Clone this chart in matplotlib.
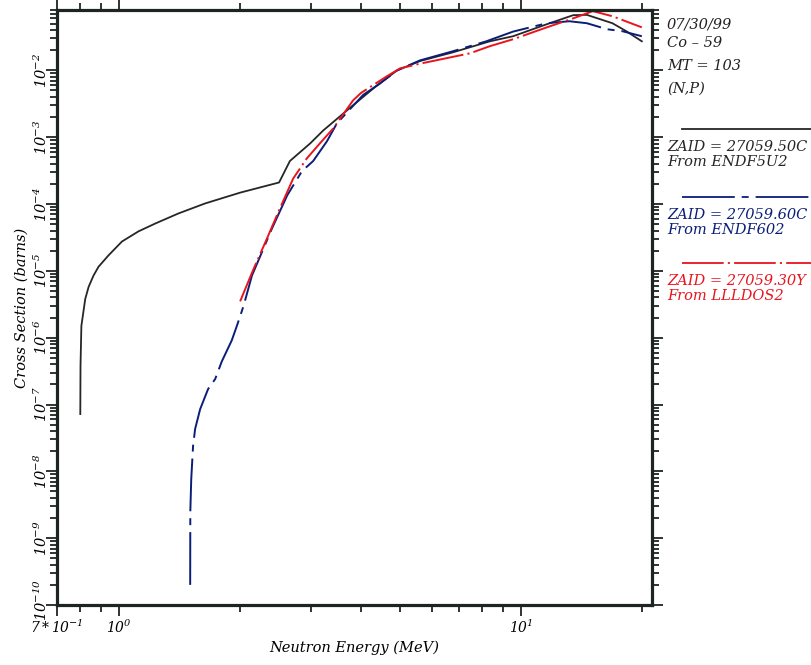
import matplotlib
matplotlib.use("Agg")
import matplotlib.pyplot as plt
from matplotlib.ticker import FixedLocator, NullFormatter
from matplotlib.transforms import ScaledTranslation

plt.rcParams['font.family'] = ['DejaVu Serif']
plt.rcParams['font.style'] = 'italic'
plt.rcParams['mathtext.fontset'] = 'custom'
plt.rcParams['mathtext.rm'] = 'DejaVu Serif:italic'
plt.rcParams['mathtext.it'] = 'DejaVu Serif:italic'
plt.rcParams['lines.scale_dashes'] = False

# Co-59 MT=103 (n,p) cross sections
black_E = [0.800, 0.801, 0.805, 0.823, 0.839, 0.863, 0.888, 0.940, 1.016, 1.117,
           1.229, 1.402, 1.636, 2.0, 2.50, 2.66, 2.99, 3.22, 3.82, 4.39, 4.92,
           5.61, 6.77, 8.37, 9.56, 11.6, 13.5, 14.6, 16.9, 18.3, 20.0]
black_xs = [7.2e-8, 3.8e-7, 1.5e-6, 3.8e-6, 5.75e-6, 8.5e-6, 1.15e-5, 1.7e-5,
            2.75e-5, 3.9e-5, 5.1e-5, 7.2e-5, 1.02e-4, 1.48e-4, 2.1e-4, 4.4e-4,
            8.1e-4, 1.26e-3, 3.0e-3, 6.0e-3, 1.0e-2, 1.38e-2, 1.86e-2, 2.72e-2,
            3.24e-2, 4.9e-2, 6.7e-2, 6.76e-2, 5.07e-2, 3.85e-2, 2.72e-2]

blue_E = [1.502, 1.503, 1.511, 1.527, 1.545, 1.590, 1.664, 1.733, 1.80, 1.906,
          1.97, 2.04, 2.14, 2.27, 2.40, 2.62, 2.85, 3.04, 3.29, 3.48, 4.05, 4.45,
          4.92, 5.61, 6.77, 8.2, 9.56, 11.6, 13.2, 14.6, 16.4, 17.9, 20.0]
blue_xs = [2.0e-10, 2.45e-9, 7.6e-9, 2.4e-8, 4.3e-8, 8.5e-8, 1.7e-7, 2.4e-7,
           4.4e-7, 9.1e-7, 1.6e-6, 3.0e-6, 8.5e-6, 1.95e-5, 4.3e-5, 1.35e-4,
           3.1e-4, 4.4e-4, 8.7e-4, 1.6e-3, 4.3e-3, 6.3e-3, 1.0e-2, 1.41e-2,
           1.93e-2, 2.72e-2, 3.8e-2, 5.07e-2, 5.43e-2, 5.07e-2, 4.12e-2, 3.85e-2,
           3.24e-2]

red_E = [2.0, 2.15, 2.33, 2.51, 2.71, 2.93, 3.16, 3.41, 3.82, 4.0, 4.63, 5.0,
         5.61, 7.47, 8.37, 9.56, 11.6, 13.5, 15.1, 16.9, 20.0]
red_xs = [3.5e-6, 1.0e-5, 3.0e-5, 8.5e-5, 2.4e-4, 4.8e-4, 8.1e-4, 1.35e-3,
          3.55e-3, 4.6e-3, 8.1e-3, 1.07e-2, 1.26e-2, 1.8e-2, 2.3e-2, 2.92e-2,
          4.4e-2, 6.0e-2, 7.7e-2, 6.45e-2, 4.4e-2]

c_black = '#262626'
c_blue = '#0a1e78'
c_red = '#e8141e'
blue_dash = (38, 5, 5, 5)
red_dash = (30, 3, 1.5, 3)

fig = plt.figure(figsize=(8.12, 6.65), dpi=100)
ax = fig.add_axes([57/812, 60/665, 595/812, 595/665])

ax.plot(black_E, black_xs, color=c_black, lw=1.3)
ax.plot(blue_E, blue_xs, color=c_blue, lw=1.4, dashes=blue_dash)
ax.plot(red_E, red_xs, color=c_red, lw=1.4, dashes=red_dash)

ax.set_xscale('log')
ax.set_yscale('log')
ax.set_xlim(0.7, 21.2)
ax.set_ylim(1e-10, 0.08)

for s in ax.spines.values():
    s.set_linewidth(2.3)
    s.set_color('#1e2420')

ax.xaxis.set_major_locator(FixedLocator([0.7, 1, 10]))
ax.set_xticklabels([r'$7*10^{-1}$', r'$10^{0}$', r'$10^{1}$'], fontsize=10)
ax.xaxis.set_minor_locator(FixedLocator([0.8, 0.9, 2, 3, 4, 5, 6, 7, 8, 9, 20]))
ax.xaxis.set_minor_formatter(NullFormatter())

ydec = [1e-10, 1e-9, 1e-8, 1e-7, 1e-6, 1e-5, 1e-4, 1e-3, 1e-2]
ylabs = [r'$10^{-10}$', r'$10^{-9}$', r'$10^{-8}$', r'$10^{-7}$', r'$10^{-6}$',
         r'$10^{-5}$', r'$10^{-4}$', r'$10^{-3}$', r'$10^{-2}$']
ax.yaxis.set_major_locator(FixedLocator(ydec))
ax.set_yticklabels(ylabs, fontsize=10.5, rotation=90, va='center')
yminor = [m * d for d in ydec for m in range(2, 10)]
ax.yaxis.set_minor_locator(FixedLocator(yminor))
ax.yaxis.set_minor_formatter(NullFormatter())

ax.tick_params(which='both', direction='out', top=True, right=True,
               color='#1e2420', width=1.3)
ax.tick_params(which='major', length=8)
ax.tick_params(which='minor', length=5)
ax.tick_params(axis='x', which='major', pad=2)
ax.tick_params(axis='y', which='major', pad=-3)

# lowest y label sits a bit higher so it clears the x label
lab0 = ax.get_yticklabels()[0]
lab0.set_transform(lab0.get_transform() + ScaledTranslation(0, 5/100, fig.dpi_scale_trans))

ax.set_xlabel('Neutron Energy (MeV)', fontsize=10.5, labelpad=3)
ax.set_ylabel('Cross Section (barns)', fontsize=10.5, labelpad=3)

tx = 667 / 812
def fy(py):
    return 1 - py / 665

for txt, py in [('07/30/99', 25), ('Co \u2013 59', 43), ('MT = 103', 66), ('(N,P)', 89)]:
    fig.text(tx, fy(py), txt, fontsize=10.5, va='center', color='#222222')

legend = [(c_black, None, 129, 'ZAID = 27059.50C', 'From ENDF5U2'),
          (c_blue, blue_dash, 197, 'ZAID = 27059.60C', 'From ENDF602'),
          (c_red, red_dash, 263, 'ZAID = 27059.30Y', 'From LLLDOS2')]
for col, dash, py, t1, t2 in legend:
    ln = plt.Line2D([682/812, 1.0], [fy(py), fy(py)], transform=fig.transFigure,
                    color=col, lw=1.3)
    if dash:
        ln.set_dashes(dash)
    fig.add_artist(ln)
    fig.text(tx, fy(py + 18), t1, fontsize=10.5, va='center', color=col)
    fig.text(tx, fy(py + 33), t2, fontsize=10.5, va='center', color=col)

fig.savefig('out.png', dpi=100)
